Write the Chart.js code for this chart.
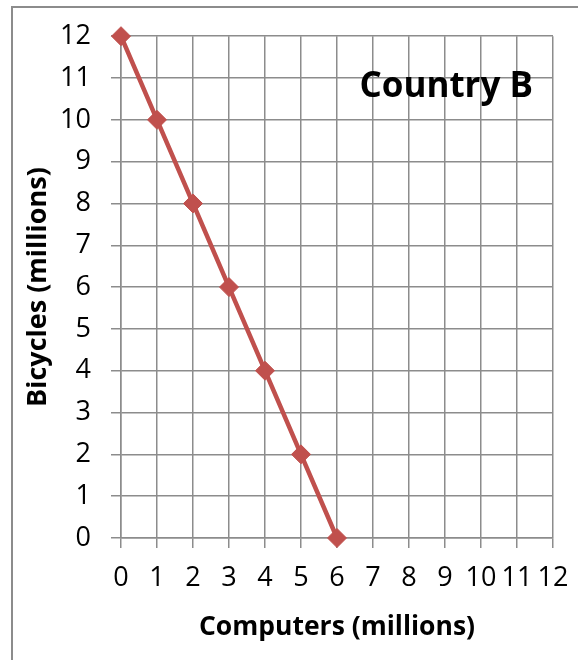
<!DOCTYPE html>
<html lang="en">
<head>
    <meta charset="UTF-8">
    <title>Country B</title>
    <style>
        html, body { margin: 0; padding: 0; background: #fff; overflow: hidden; }
        #frame {
            position: absolute; left: 11px; top: 6px;
            width: 620px; height: 700px;
            border: 2px solid #8c8c8c;
        }
        #wrap { position: absolute; left: 0; top: 0; width: 578px; height: 660px; }
    </style>
</head>
<body>
    <div id="frame"></div>
    <div id="wrap"><canvas id="ppf"></canvas></div>

    <script src="https://cdn.jsdelivr.net/npm/chart.js@4.4.1/dist/chart.umd.min.js"></script>
    <script>
        // production possibilities, Country B
        var computers = [0, 1, 2, 3, 4, 5, 6];
        var bicycles = [12, 10, 8, 6, 4, 2, 0];
        var axisMin = 0, axisMax = 12;
        var chartTitle = 'Country B';
        var xTitle = 'Computers (millions)';
        var yTitle = 'Bicycles (millions)';

        var gridColor = '#8c8c8c';
        var lineColor = '#c0504d';
        var fontName = 'Open Sans';

        var points = computers.map(function (c, i) { return {x: c, y: bicycles[i]}; });

        // title sits inside the plot, top right
        var innerTitle = {
            id: 'innerTitle',
            afterDraw: function (chart) {
                var ctx = chart.ctx, area = chart.chartArea;
                ctx.save();
                ctx.font = 'bold 35px "' + fontName + '"';
                ctx.fillStyle = '#000';
                ctx.textAlign = 'right';
                ctx.textBaseline = 'alphabetic';
                ctx.fillText(chartTitle, area.right - 20, 97);
                ctx.restore();
            }
        };

        var myChart = new Chart(document.getElementById('ppf'), {
            type: 'scatter',
            data: {
                datasets: [{
                    data: points,
                    showLine: true,
                    clip: false,
                    borderColor: lineColor,
                    backgroundColor: lineColor,
                    borderWidth: 4.5,
                    pointStyle: 'rectRot',
                    pointRadius: 9.5,
                    pointBorderWidth: 1,
                    pointBorderColor: lineColor,
                    pointBackgroundColor: lineColor
                }]
            },
            options: {
                responsive: true,
                maintainAspectRatio: false,
                animation: false,
                layout: { padding: { left: 0, right: 25, top: 35, bottom: 0 } },
                plugins: { legend: { display: false }, tooltip: { enabled: false } },
                scales: {
                    x: {
                        type: 'linear',
                        min: axisMin, max: axisMax,
                        // fixed box size; let layout padding decide the right edge
                        afterFit: function (s) { s.height = 122; s.paddingLeft = 0; s.paddingRight = 0; },
                        grid: { color: gridColor, lineWidth: 1.5, tickLength: 10, tickColor: gridColor },
                        border: { color: gridColor, width: 1.5 },
                        ticks: { stepSize: 1, color: '#000', font: { family: fontName, size: 27 }, padding: 14, maxRotation: 0, autoSkip: false },
                        title: { display: true, text: xTitle, color: '#000', font: { family: fontName, size: 26.5, weight: 'bold' }, padding: { top: 4, bottom: 17 } }
                    },
                    y: {
                        type: 'linear',
                        min: axisMin, max: axisMax,
                        afterFit: function (s) { s.width = 121; },
                        grid: { color: gridColor, lineWidth: 1.5, tickLength: 10, tickColor: gridColor },
                        border: { color: gridColor, width: 1.5 },
                        ticks: { stepSize: 1, color: '#000', font: { family: fontName, size: 27 }, padding: 20, autoSkip: false },
                        title: { display: true, text: yTitle, color: '#000', font: { family: fontName, size: 27, weight: 'bold' }, padding: { top: 22, bottom: 4 } }
                    }
                }
            },
            plugins: [innerTitle]
        });
    </script>
</body>
</html>
